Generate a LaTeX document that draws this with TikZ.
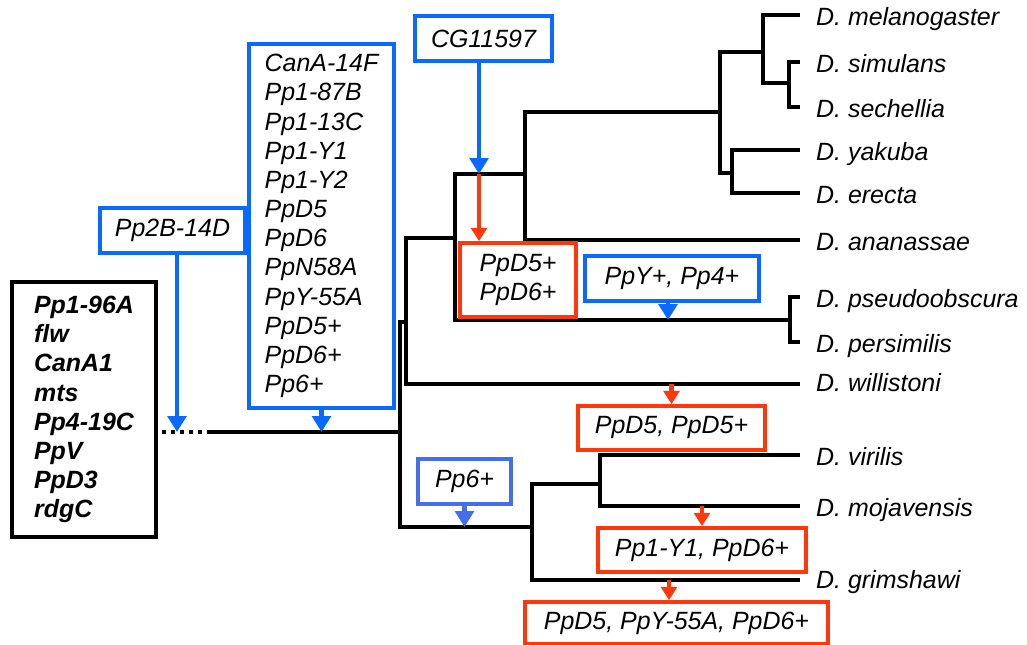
\documentclass[tikz,border=0pt]{standalone}
\usepackage{fontspec}
\setmainfont{Liberation Sans}
\usepackage{xcolor}
\usetikzlibrary{arrows.meta, positioning, calc}

\definecolor{gainblue}{RGB}{10,105,255}
\definecolor{softblue}{RGB}{70,110,235}
\definecolor{lossred}{RGB}{255,55,10}

\begin{document}
\begin{tikzpicture}[
  x=0.02cm, y=-0.02cm,
  font=\fontsize{14.2}{16.6}\selectfont\itshape,
  branch/.style  = {draw, line width=2pt},
  stub/.style    = {draw, line width=2.3pt, dash pattern=on 2.3pt off 2.8pt},
  species/.style = {anchor=base west, inner sep=0pt},
  core/.style    = {draw, line width=2.2pt, align=left, inner sep=0pt,
                    font=\fontsize{14.2}{16.6}\selectfont\bfseries\itshape},
  gain/.style    = {draw=gainblue, line width=2.2pt, align=left, inner sep=0pt,
                    fill=white},
  loss/.style    = {draw=lossred, line width=2.2pt, align=left, inner sep=0pt,
                    fill=white},
  gainarr/.style = {-{Triangle[width=10.5pt,length=9pt]}, draw=gainblue,
                    fill=gainblue, line width=2.3pt},
  lossarr/.style = {-{Triangle[width=9pt,length=7.5pt]}, draw=lossred,
                    fill=lossred, line width=2.3pt},
]
\useasboundingbox (0,0) rectangle (1027,645);

%% Tree nodes
\coordinate (stem)  at (162,432);
\coordinate (stemB) at (207,432);
\coordinate (n0)  at (400,432);
\coordinate (n1)  at (406,322);
\coordinate (n2)  at (532,527);
\coordinate (n3)  at (455,238);
\coordinate (n4)  at (525,174);
\coordinate (n5)  at (790,320);
\coordinate (n6)  at (720,112);
\coordinate (n7)  at (763,52);
\coordinate (n8)  at (732,173);
\coordinate (n9)  at (789,83);
\coordinate (n10) at (600,484);

%% Leaves
\coordinate (mel) at (800,15);
\coordinate (sim) at (800,62);
\coordinate (sec) at (800,107);
\coordinate (yak) at (800,150);
\coordinate (ere) at (800,193);
\coordinate (ana) at (800,240);
\coordinate (pse) at (800,297);
\coordinate (per) at (800,342);
\coordinate (wil) at (800,384);
\coordinate (vir) at (800,455);
\coordinate (moj) at (800,506);
\coordinate (gri) at (800,580);

%% Branches
\draw[stub] (stem) -- (stemB);
\draw[branch] (stemB) -- (n0);
\draw[branch] (n0) |- (n1) (n0) |- (n2);
\draw[branch] (n1) |- (n3) (n1) |- (wil);
\draw[branch] (n3) |- (n4) (n3) |- (n5);
\draw[branch] (n4) |- (n6) (n4) |- (ana);
\draw[branch] (n6) |- (n7) (n6) |- (n8);
\draw[branch] (n7) |- (mel) (n7) |- (n9);
\draw[branch] (n9) |- (sim) (n9) |- (sec);
\draw[branch] (n8) |- (yak) (n8) |- (ere);
\draw[branch] (n5) |- (pse) (n5) |- (per);
\draw[branch] (n2) |- (n10) (n2) |- (gri);
\draw[branch] (n10) |- (vir) (n10) |- (moj);

%% Species names
\node[species] (tmel) at ([xshift=9pt,yshift=-5.7pt]mel) {D. melanogaster};
\node[species] (tsim) at ([xshift=9pt,yshift=-5.7pt]sim) {D. simulans};
\node[species] (tsec) at ([xshift=9pt,yshift=-5.7pt]sec) {D. sechellia};
\node[species] (tyak) at ([xshift=9pt,yshift=-5.7pt]yak) {D. yakuba};
\node[species] (tere) at ([xshift=9pt,yshift=-5.7pt]ere) {D. erecta};
\node[species] (tana) at ([xshift=9pt,yshift=-5.7pt]ana) {D. ananassae};
\node[species] (tpse) at ([xshift=9pt,yshift=-5.7pt]pse) {D. pseudoobscura};
\node[species] (tper) at ([xshift=9pt,yshift=-5.7pt]per) {D. persimilis};
\node[species] (twil) at ([xshift=9pt,yshift=-4.5pt]wil) {D. willistoni};
\node[species] (tvir) at ([xshift=9pt,yshift=-5.7pt]vir) {D. virilis};
\node[species] (tmoj) at ([xshift=9pt,yshift=-5.7pt]moj) {D. mojavensis};
\node[species] (tgri) at ([xshift=9pt,yshift=-5pt]gri) {D. grimshawi};

%% Ancestral set
\node[core, minimum width=2.88cm, minimum height=5.1cm] (anc) at (84,409.5)
     {Pp1-96A\\flw\\CanA1\\mts\\Pp4-19C\\PpV\\PpD3\\rdgC};

%% Gains (blue)
\node[gain, minimum width=2.9cm, minimum height=0.9cm] (p2b) at (172.5,230.5)
     {Pp2B-14D};
\node[gain, minimum width=2.9cm, minimum height=7.28cm] (early) at (321.5,226)
     {CanA-14F\\Pp1-87B\\Pp1-13C\\Pp1-Y1\\Pp1-Y2\\PpD5\\PpD6\\PpN58A\\
      PpY-55A\\PpD5+\\PpD6+\\Pp6+};
\node[gain, minimum width=2.74cm, minimum height=0.9cm] (cg) at (483.5,38.5)
     {CG11597};
\node[gain, minimum width=3.48cm, minimum height=0.9cm] (pyp) at (672,278.5)
     {PpY+, Pp4+};
\node[gain, draw=softblue, minimum width=1.86cm, minimum height=0.9cm] (p6)
     at (464.5,481.5) {Pp6+};

\draw[gainarr] ([xshift=0.09cm]p2b.south) -- ([xshift=0.09cm]p2b.south |- n0);
\draw[gainarr] (early.south) -- (early.south |- n0);
\draw[gainarr] ([xshift=-0.09cm]cg.south) -- ([xshift=-0.09cm]cg.south |- n4);
\draw[gainarr] ([xshift=-0.08cm]pyp.south) -- ([xshift=-0.08cm]pyp.south |- n5);
\draw[gainarr, draw=softblue, fill=softblue] (p6.south) -- (p6.south |- n2);

%% Losses (red)
\node[loss, minimum width=2.32cm, minimum height=1.48cm] (mel6) at (518,280)
     {PpD5+\\PpD6+};
\node[loss, minimum width=3.74cm, minimum height=0.88cm] (wil5) at (671.5,428)
     {PpD5, PpD5+};
\node[loss, minimum width=4.16cm, minimum height=0.88cm] (moj1) at (702,550)
     {Pp1-Y1, PpD6+};
\node[loss, minimum width=6.06cm, minimum height=0.84cm] (gri5) at (676.5,623)
     {PpD5, PpY-55A, PpD6+};

\draw[lossarr] ([xshift=-0.09cm]cg.south |- n4) -- ([xshift=-0.09cm]cg.south |- mel6.north);
\draw[lossarr] (wil5.north |- wil) -- (wil5.north);
\draw[lossarr] (moj1.north |- moj) -- (moj1.north);
\draw[lossarr] ([xshift=-0.15cm]gri5.north |- gri) -- ([xshift=-0.15cm]gri5.north);

\end{tikzpicture}
\end{document}
